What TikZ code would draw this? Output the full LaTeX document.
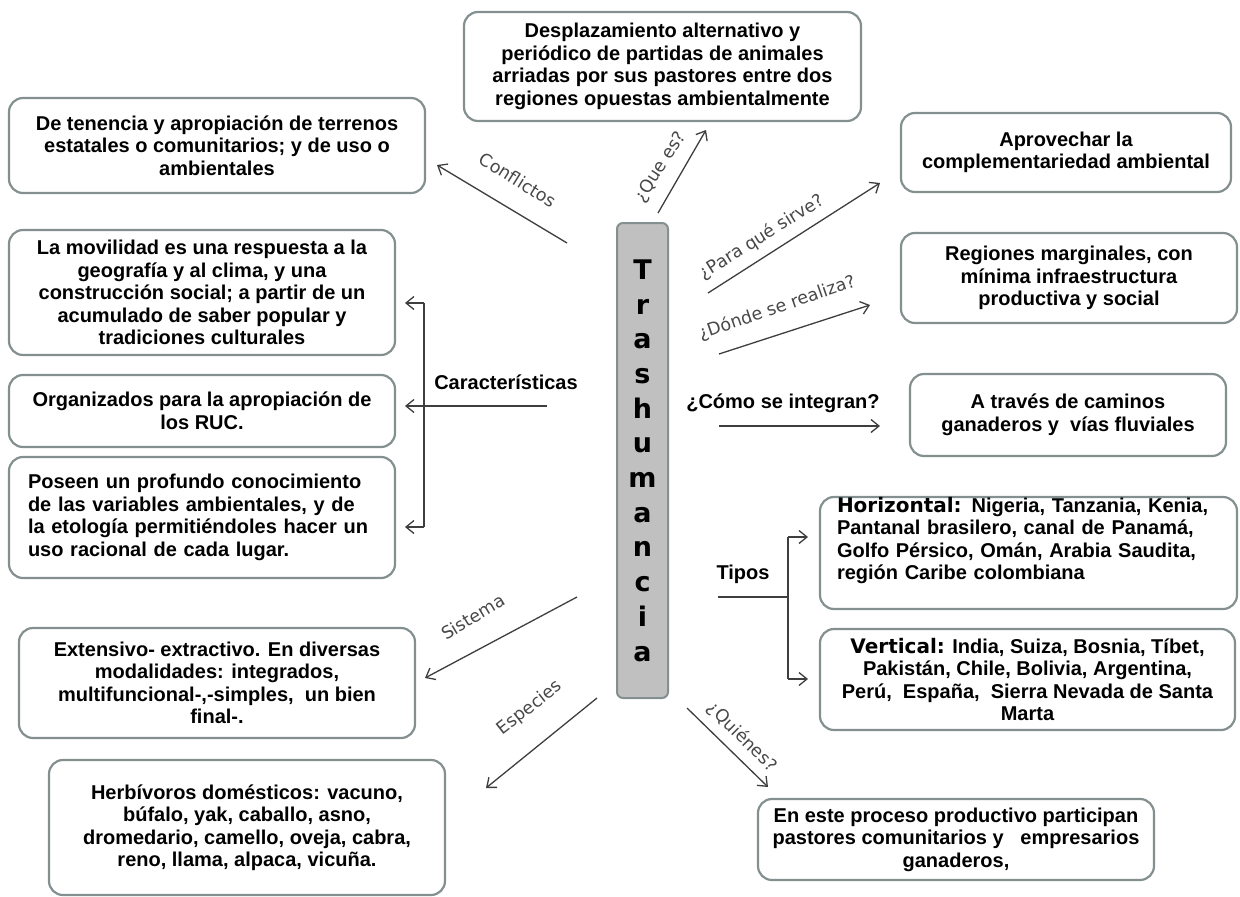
\documentclass[tikz,border=0pt]{standalone}
\usepackage{fontspec}
\setmainfont{Liberation Sans}
\newfontfamily\labelfont{DejaVu Sans}
\newfontfamily\heavyfont{DejaVu Sans}
\usetikzlibrary{arrows.meta}
\definecolor{boxline}{RGB}{132,144,144}
\definecolor{centerfill}{RGB}{192,192,192}
\definecolor{linkgray}{RGB}{62,62,62}
\definecolor{labelgray}{RGB}{72,72,72}
\tikzset{
  box/.style={draw=boxline,line width=2.2pt,rounded corners=14pt,fill=white,align=center,inner sep=0pt,
    font=\bfseries\fontsize{20}{22.5}\selectfont},
  link/.style={draw=linkgray,line width=1.3pt,-{Straight Barb[length=8pt,width=13pt]}},
  bracket/.style={draw=linkgray,line width=1.3pt},
  linklbl/.style={text=labelgray,font=\labelfont\fontsize{17.5}{20}\selectfont},
  keylbl/.style={font=\bfseries\fontsize{20}{22.5}\selectfont},
}
\begin{document}
\begin{tikzpicture}[x=1pt,y=-1pt]
\useasboundingbox (0,0) rectangle (1240,897);

% Central concept
\node[draw=boxline,fill=centerfill,line width=2pt,rounded corners=6pt,minimum width=51pt,minimum height=475pt,
  inner sep=0pt,align=center,font=\heavyfont\bfseries\fontsize{27}{34.7}\selectfont] (tras) at (642.5,460.5)
  {T\\r\\a\\s\\h\\u\\m\\a\\n\\c\\i\\a};

% Boxes, top
\node[box,minimum width=397pt,minimum height=109pt] (que) at (662.5,66.5)
  {Desplazamiento alternativo y\\periódico de partidas de animales\\arriadas por sus pastores entre dos\\regiones opuestas ambientalmente};
\node[box,minimum width=416pt,minimum height=95pt] (conf) at (217,145.5)
  {De tenencia y apropiación de terrenos\\estatales o comunitarios; y de uso o\\ambientales};
\node[box,minimum width=330pt,minimum height=79pt] (apro) at (1066,152.5)
  {Aprovechar la\\complementariedad ambiental};
\node[box,minimum width=336pt,minimum height=90pt] (reg) at (1069,278)
  {Regiones marginales, con\\mínima infraestructura\\productiva y social};

% Boxes, left column
\node[box,minimum width=386pt,minimum height=125pt] (movil) at (202,292.5)
  {La movilidad es una respuesta a la\\geografía y al clima, y una\\construcción social; a partir de un\\acumulado de saber popular y\\tradiciones culturales};
\node[box,minimum width=386pt,minimum height=72pt] (org) at (202,411)
  {Organizados para la apropiación de\\los RUC.};
\node[box,align=left,text width=348pt,minimum width=386pt,minimum height=121pt] (pos) at (202,517.5)
  {Poseen un profundo conocimiento\\de las variables ambientales, y de\\la etología permitiéndoles hacer un\\uso racional de cada lugar.};
\node[box,minimum width=396pt,minimum height=110pt] (ext) at (217,683)
  {Extensivo- extractivo. En diversas\\modalidades: integrados,\\multifuncional-,-simples,\ \ un bien\\final-.};
\node[box,minimum width=396pt,minimum height=135pt] (herb) at (247,827.5)
  {Herbívoros domésticos: vacuno,\\búfalo, yak, caballo, asno,\\dromedario, camello, oveja, cabra,\\reno, llama, alpaca, vicuña.};

% Boxes, right column
\node[box,minimum width=316pt,minimum height=82pt] (via) at (1068,415)
  {A través de caminos\\ganaderos y\ \ vías fluviales};
\node[box,align=left,text width=383pt,minimum width=417pt,minimum height=112pt] (horiz) at (1028.5,553)
  {{\heavyfont\bfseries Horizontal:} Nigeria, Tanzania, Kenia,\\Pantanal brasilero, canal de Panamá,\\Golfo Pérsico, Omán, Arabia Saudita,\\región Caribe colombiana\\\strut};
\node[box,minimum width=415pt,minimum height=101pt] (vert) at (1027.5,679.5)
  {{\heavyfont\bfseries Vertical:} India, Suiza, Bosnia, Tíbet,\\Pakistán, Chile, Bolivia, Argentina,\\Perú,\ \ España,\ \ Sierra Nevada de Santa\\Marta};
\node[box,minimum width=396pt,minimum height=81pt] (quien) at (956,839.5)
  {En este proceso productivo participan\\pastores comunitarios y\ \ \ empresarios\\ganaderos,};

% Connector ends
\coordinate (conf-a) at (567,243);   \coordinate (conf-b) at (437,165);
\coordinate (que-a) at (658,213);    \coordinate (que-b) at (706,130);
\coordinate (apro-a) at (708,293);   \coordinate (apro-b) at (880,183);
\coordinate (reg-a) at (719,354);    \coordinate (reg-b) at (870,305);
\coordinate (via-a) at (719,426);    \coordinate (via-b) at (880,426);
\coordinate (car-a) at (547,406);    \coordinate (car-b) at (405,406);
\coordinate (car-top) at (424,303);  \coordinate (car-bot) at (424,527);
\coordinate (tip-a) at (718,597);    \coordinate (tip-m) at (788,597);
\coordinate (tip-top) at (788,537);  \coordinate (tip-bot) at (788,679);
\coordinate (sis-a) at (577,597);    \coordinate (sis-b) at (425,678);
\coordinate (esp-a) at (597,698);    \coordinate (esp-b) at (486,788);
\coordinate (qui-a) at (687,708);    \coordinate (qui-b) at (768,787);

% Connectors
\draw[link] (conf-a) -- (conf-b);
\draw[link] (que-a) -- (que-b);
\draw[link] (apro-a) -- (apro-b);
\draw[link] (reg-a) -- (reg-b);
\draw[link] (via-a) -- (via-b);
\draw[link] (car-a) -- (car-b);
\draw[bracket] (car-top) -- (car-bot);
\draw[link] (car-top) -- (car-top -| car-b);
\draw[link] (car-bot) -- (car-bot -| car-b);
\draw[bracket] (tip-a) -- (tip-m);
\draw[bracket] (tip-top) -- (tip-bot);
\draw[link] (tip-top) -- ++(20,0);
\draw[link] (tip-bot) -- ++(20,0);
\draw[link] (sis-a) -- (sis-b);
\draw[link] (esp-a) -- (esp-b);
\draw[link] (qui-a) -- (qui-b);

% Connector labels
\node[linklbl,rotate=-32] (l-conf) at (518,180) {Conflictos};
\node[linklbl,rotate=57] (l-que) at (661,167) {¿Que es?};
\node[linklbl,rotate=32] (l-apro) at (762,237) {¿Para qué sirve?};
\node[linklbl,rotate=19] (l-reg) at (777,308) {¿Dónde se realiza?};
\node[keylbl] (l-via) at (783,403) {¿Cómo se integran?};
\node[keylbl] (l-car) at (506,382) {Características};
\node[keylbl] (l-tip) at (743,574) {Tipos};
\node[linklbl,rotate=31] (l-sis) at (473,617) {Sistema};
\node[linklbl,rotate=38] (l-esp) at (530,708) {Especies};
\node[linklbl,rotate=-45] (l-qui) at (742,737) {¿Quiénes?};
\end{tikzpicture}
\end{document}
